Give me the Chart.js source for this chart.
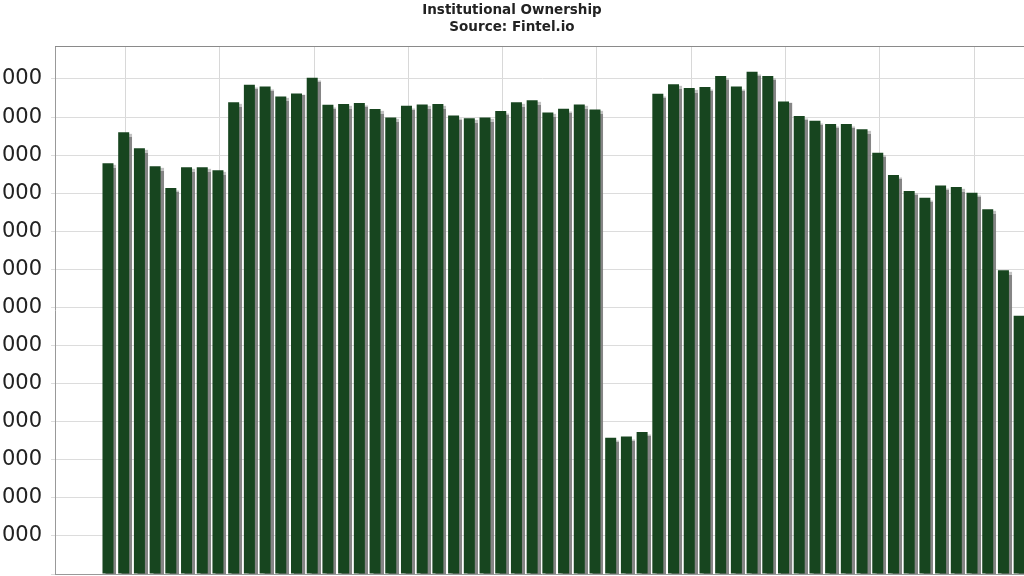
<!DOCTYPE html>
<html>
<head>
<meta charset="utf-8">
<script src="https://cdn.jsdelivr.net/npm/chart.js@4.4.1/dist/chart.umd.min.js"></script>
<style>
  html, body { margin: 0; padding: 0; background: #ffffff; overflow: hidden; width: 1024px; height: 576px; }
  #wrap { position: absolute; left: -150px; top: 0; width: 1324px; height: 620px; }
</style>
</head>
<body>
<div id="wrap"><canvas id="c" width="1324" height="620"></canvas></div>
<script>
const titleLines = ["Institutional Ownership", "Source: Fintel.io"];

const quarters = [
  "2008 Q1","2008 Q2","2008 Q3","2008 Q4","2009 Q1","2009 Q2","2009 Q3","2009 Q4",
  "2010 Q1","2010 Q2","2010 Q3","2010 Q4","2011 Q1","2011 Q2","2011 Q3","2011 Q4",
  "2012 Q1","2012 Q2","2012 Q3","2012 Q4","2013 Q1","2013 Q2","2013 Q3","2013 Q4",
  "2014 Q1","2014 Q2","2014 Q3","2014 Q4","2015 Q1","2015 Q2","2015 Q3","2015 Q4",
  "2016 Q1","2016 Q2","2016 Q3","2016 Q4","2017 Q1","2017 Q2","2017 Q3","2017 Q4",
  "2018 Q1","2018 Q2","2018 Q3","2018 Q4","2019 Q1","2019 Q2","2019 Q3","2019 Q4",
  "2020 Q1","2020 Q2","2020 Q3","2020 Q4","2021 Q1","2021 Q2","2021 Q3","2021 Q4",
  "2022 Q1","2022 Q2","2022 Q3","2022 Q4","2023 Q1","2023 Q2"
];

const sharesHeld = [
  null, null, null,
  10785000, 11600000, 11180000, 10710000, 10140000, 10680000, 10680000, 10600000, 12390000, 12850000,
  12800000, 12540000, 12620000, 13030000, 12320000, 12340000, 12370000, 12210000, 11990000, 12300000,
  12330000, 12340000, 12040000, 11970000, 11990000, 12160000, 12390000, 12440000, 12120000, 12220000,
  12330000, 12200000, 3580000, 3610000, 3730000, 12610000, 12860000, 12760000, 12790000, 13080000,
  12800000, 13190000, 13080000, 12410000, 12030000, 11900000, 11820000, 11820000, 11680000, 11060000,
  10480000, 10060000, 9880000, 10200000, 10160000, 10010000, 9580000, 7980000, 6780000
];

const yTickValues = [
  0, 1000000, 2000000, 3000000, 4000000, 5000000, 6000000,
  7000000, 8000000, 9000000, 10000000, 11000000, 12000000, 13000000
];
const yMax = 13866000;

function groupDigits(v) {
  return String(Math.round(v)).replace(/\B(?=(\d{3})+(?!\d))/g, ' ');
}

const barShadow = {
  id: 'barShadow',
  beforeDatasetDraw(chart) {
    const ctx = chart.ctx;
    ctx.save();
    ctx.translate(-2, 0);
    ctx.shadowColor = 'rgba(120,120,120,0.9)';
    ctx.shadowOffsetX = 3;
    ctx.shadowOffsetY = 2;
    ctx.shadowBlur = 1;
  },
  afterDatasetDraw(chart) {
    chart.ctx.restore();
  }
};

const topFrame = {
  id: 'topFrame',
  afterDraw(chart) {
    const { ctx, chartArea: a } = chart;
    ctx.save();
    ctx.strokeStyle = '#8a8a8a';
    ctx.lineWidth = 1;
    ctx.beginPath();
    ctx.moveTo(a.left, a.top + 0.5);
    ctx.lineTo(a.right, a.top + 0.5);
    ctx.stroke();
    ctx.restore();
  }
};

new Chart(document.getElementById('c'), {
  type: 'bar',
  data: {
    labels: quarters,
    datasets: [{
      data: sharesHeld,
      backgroundColor: '#17451f',
      borderWidth: 0,
      barPercentage: 0.7,
      categoryPercentage: 1.0
    }]
  },
  options: {
    responsive: false,
    devicePixelRatio: 1,
    animation: false,
    layout: { padding: { left: 145, right: 145, top: 0, bottom: 0 } },
    plugins: {
      legend: { display: false },
      tooltip: { enabled: false },
      title: {
        display: true,
        text: titleLines,
        color: '#222222',
        font: { family: 'DejaVu Sans', size: 13.5, weight: 'bold', lineHeight: '17px' },
        padding: { top: 2, bottom: 10 }
      }
    },
    scales: {
      x: {
        type: 'category',
        offset: true,
        afterFit(scale) { scale.height = 46; },
        grid: {
          offset: false,
          drawTicks: false,
          color: (c) => (c.index % 6 === 4 ? '#d8d8d8' : 'rgba(0,0,0,0)')
        },
        border: { display: true, color: '#999999', width: 1 },
        ticks: { display: false }
      },
      y: {
        type: 'linear',
        min: 0,
        max: yMax,
        afterFit(scale) { scale.width = 60; },
        afterBuildTicks(scale) {
          scale.ticks = yTickValues.map(v => ({ value: v }));
        },
        grid: { color: '#dcdcdc', tickLength: 4 },
        border: { display: true, color: '#999999', width: 1 },
        ticks: {
          padding: 9,
          color: '#222222',
          autoSkip: false,
          font: { family: 'DejaVu Sans', size: 21 },
          callback: (v) => (v === 0 ? '' : groupDigits(v))
        }
      }
    }
  },
  plugins: [barShadow, topFrame]
});
</script>
</body>
</html>
